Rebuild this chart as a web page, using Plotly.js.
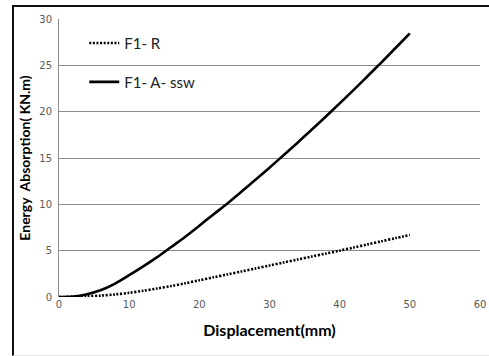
<!DOCTYPE html>
<html>
<head>
<meta charset="utf-8">
<script src="https://cdn.plot.ly/plotly-3.0.1.min.js"></script>
<style>
  html, body { margin: 0; padding: 0; background: #fff; }
  #chart { width: 489px; height: 356px; }
  #frame { position: absolute; left: 12px; top: 5px; width: 480px; height: 348px;
           border-left: 2px solid #111; border-top: 2px solid #111; border-bottom: 1px solid #e4e4e4;
           pointer-events: none; }
</style>
</head>
<body>
<div id="chart"></div>
<div id="frame"></div>
<script>
const displacement = [0, 2, 4, 6, 8, 10, 12, 14, 16, 18, 20, 22, 24, 26, 28, 30, 32, 34, 36, 38, 40, 42, 44, 46, 48, 50];
const energyR = [0, 0.02, 0.07, 0.15, 0.28, 0.45, 0.67, 0.92, 1.18, 1.48, 1.8, 2.12, 2.44, 2.76, 3.08, 3.4, 3.72, 4.04, 4.36, 4.68, 5.0, 5.34, 5.68, 6.02, 6.36, 6.7];
const energySSW = [0, 0.05, 0.3, 0.75, 1.45, 2.35, 3.3, 4.3, 5.4, 6.5, 7.7, 8.9, 10.1, 11.35, 12.65, 13.95, 15.3, 16.65, 18.05, 19.45, 20.9, 22.35, 23.85, 25.35, 26.9, 28.45];
const seriesNames = ["F1- R", "F1- A- ssw"];
const xTicks = [0, 10, 20, 30, 40, 50, 60];
const yTicks = [0, 5, 10, 15, 20, 25, 30];

const traces = [
  { x: displacement, y: energyR, name: seriesNames[0], mode: "lines", type: "scatter",
    line: { color: "#000", width: 2.6, dash: "2px,1.6px", shape: "spline", smoothing: 0.8 }, legend: "legend" },
  { x: displacement, y: energySSW, name: seriesNames[1], mode: "lines", type: "scatter",
    line: { color: "#000", width: 2.6, shape: "spline", smoothing: 0.8 }, legend: "legend2" }
];

const legendFont = { family: "Lato, 'Open Sans', sans-serif", size: 15, color: "#222" };
const layout = {
  width: 489, height: 356,
  margin: { l: 59, r: 9, t: 19, b: 59 },
  paper_bgcolor: "rgba(0,0,0,0)", plot_bgcolor: "#fff",
  showlegend: true,
  legend: { x: 0.06, y: 0.913, xanchor: "left", yanchor: "middle", bgcolor: "rgba(0,0,0,0)", font: legendFont },
  legend2: { x: 0.06, y: 0.773, xanchor: "left", yanchor: "middle", bgcolor: "rgba(0,0,0,0)", font: legendFont },
  xaxis: {
    range: [0, 60], tickvals: xTicks, ticktext: xTicks.map(String),
    showgrid: false, zeroline: false, showline: false, ticks: "",
    tickfont: { family: "'DejaVu Sans', sans-serif", size: 10, color: "#595959" },
    title: { text: "<b>Displacement(mm)</b>", font: { family: "Lato, 'Open Sans', sans-serif", size: 16, color: "#000" }, standoff: 15 }
  },
  yaxis: {
    range: [0, 30], tickvals: yTicks, ticktext: yTicks.map(String),
    showgrid: true, gridcolor: "#8c8c8c", gridwidth: 1,
    zeroline: false, showline: true, linecolor: "#8c8c8c", linewidth: 1, ticks: "",
    tickfont: { family: "'DejaVu Sans', sans-serif", size: 10, color: "#595959" },
    ticklabelstandoff: 4,
    title: { text: "<b>Energy  Absorption( KN.m)</b>", font: { family: "Lato, 'Open Sans', sans-serif", size: 14, color: "#000" }, standoff: 5 }
  }
};

Plotly.newPlot("chart", traces, layout, { displayModeBar: false, staticPlot: true });
</script>
</body>
</html>
